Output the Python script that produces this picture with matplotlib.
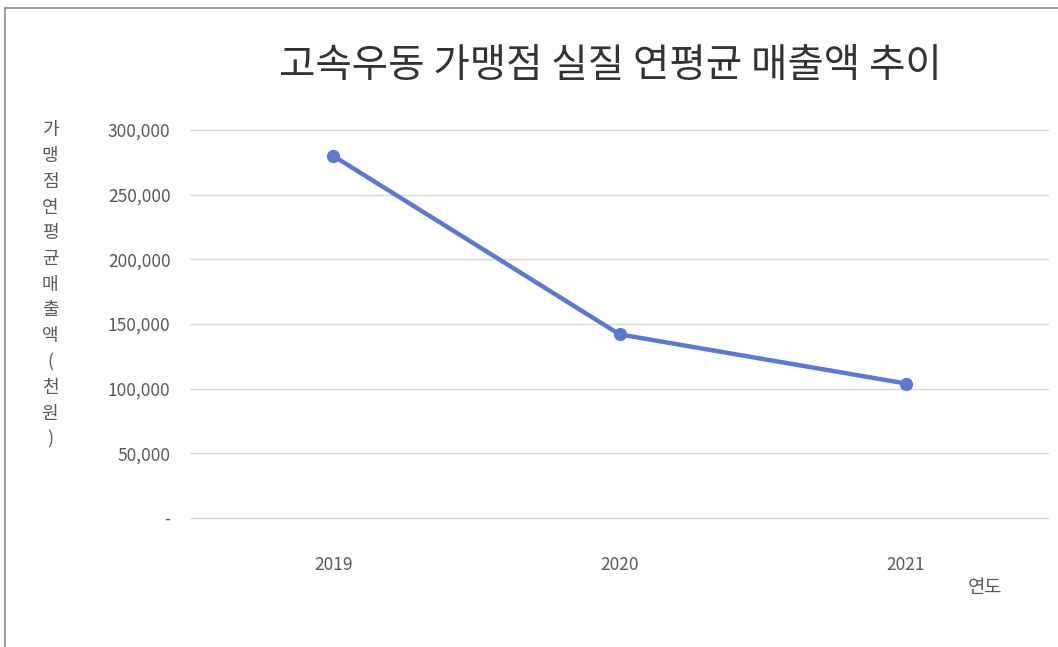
import matplotlib
matplotlib.use("Agg")
import matplotlib.pyplot as plt
from matplotlib.patches import Rectangle

plt.rcParams['font.family'] = ['Noto Sans CJK KR', 'DejaVu Sans']

years = ['2019', '2020', '2021']
sales = [280000, 142000, 104000]
yticks = [0, 50000, 100000, 150000, 200000, 250000, 300000]
ytick_labels = ['-', '50,000', '100,000', '150,000', '200,000', '250,000', '300,000']
title = '고속우동 가맹점 실질 연평균 매출액 추이'
ylabel = '가맹점 연평균 매출액 (천원)'
xlabel = '연도'

W, H = 1058, 647
fig = plt.figure(figsize=(W / 100, H / 100), dpi=100)
fig.patch.set_facecolor('white')

# outer border
fig.patches.append(Rectangle((5 / W, -0.01), 1.1, 1 - 8 / H + 0.01, transform=fig.transFigure,
                             fill=False, edgecolor='#8c8c8c', linewidth=1.2))

ax = fig.add_axes([190 / W, 1 - 520 / H, (1049 - 190) / W, (520 - 128) / H])
x = list(range(len(years)))
ax.plot(x, sales, color='#5a78d6', linewidth=3.2, marker='o', markersize=8.5, zorder=3)

ax.set_xlim(-0.5, 2.5)
ax.set_ylim(-1500, 301500)
ax.set_yticks(yticks)
ax.set_yticklabels(ytick_labels)
ax.set_xticks(x)
ax.set_xticklabels(years)
ax.grid(axis='y', color='#d9d9d9', linewidth=1)
ax.set_axisbelow(True)
for s in ax.spines.values():
    s.set_visible(False)
ax.tick_params(axis='both', length=0, labelsize=12.5, colors='#595959')
ax.tick_params(axis='y', pad=14)
ax.tick_params(axis='x', pad=26)

fig.text(610 / W, 1 - 66 / H, title, ha='center', va='center', fontsize=28.5, color='#333333')

# vertical stacked y label
stacked = '\n'.join(ch for ch in ylabel.replace(' ', ''))
fig.text(50 / W, 1 - 285 / H, stacked, ha='center', va='center', fontsize=13,
         color='#595959', linespacing=1.55)

fig.text(985 / W, 1 - 588 / H, xlabel, ha='center', va='center', fontsize=13.5, color='#595959')

fig.savefig('out.png', dpi=100)
